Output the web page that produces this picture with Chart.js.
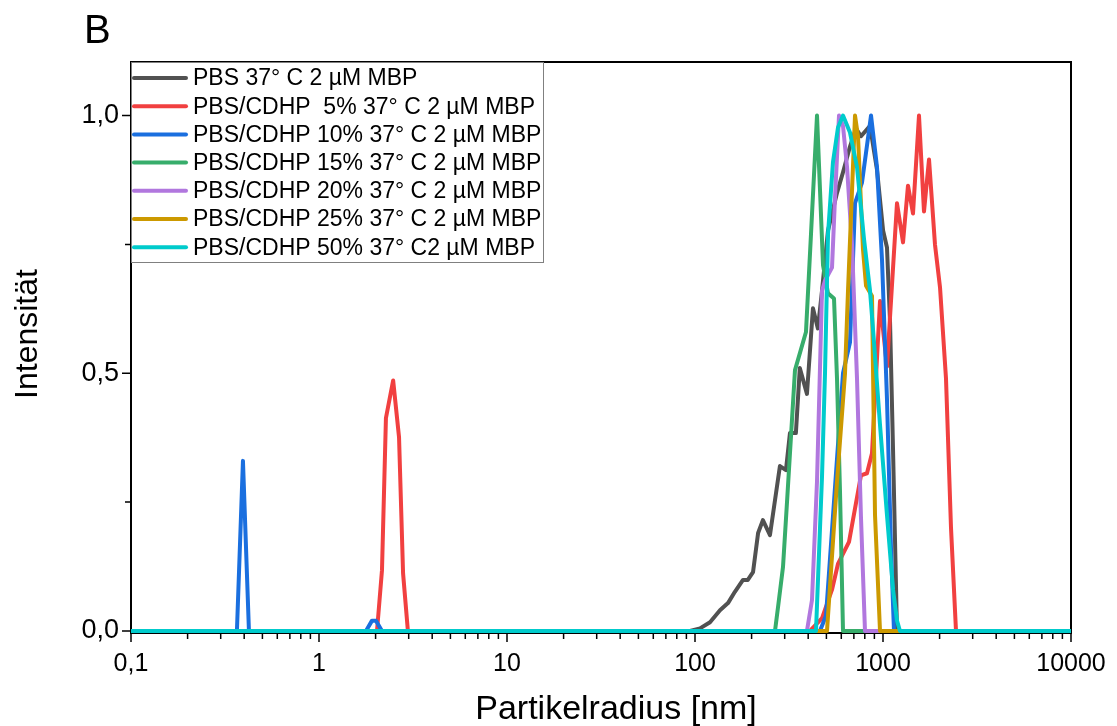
<!DOCTYPE html>
<html>
<head>
<meta charset="utf-8">
<title>DLS Partikelradius</title>
<script src="https://cdn.jsdelivr.net/npm/chart.js@4.4.1/dist/chart.umd.min.js"></script>
<style>
  html, body { margin: 0; padding: 0; background: #fff; }
  #wrap { width: 1117px; height: 726px; }
</style>
</head>
<body>
<div id="wrap"><canvas id="dls" width="1117" height="726"></canvas></div>
<script>
/* --- Data (radius in nm, normalised intensity) --- */
const radiusPBS = [0.1, 94.1, 106.3, 120.2, 135.8, 149.8, 163, 180, 191, 203.5, 216.6, 229.7, 250.5, 283, 304.6, 320, 344, 361, 394, 424, 450.5, 473.8, 509.9, 569.3, 612.7, 667.5, 718.6, 763.6, 853.1, 929, 1001, 1050, 1090, 1131, 1187, 10000];
const intPBS = [0, 0, 0.005, 0.017, 0.04, 0.054, 0.076, 0.099, 0.099, 0.114, 0.19, 0.215, 0.186, 0.32, 0.312, 0.384, 0.384, 0.51, 0.46, 0.626, 0.587, 0.66, 0.777, 0.85, 0.89, 0.94, 0.975, 0.96, 0.98, 0.895, 0.777, 0.744, 0.6, 0.35, 0, 0];

const radius5 = [0.1, 1.9, 2.035, 2.163, 2.27, 2.48, 2.665, 2.8, 2.97, 3.1, 380, 409, 474, 535.5, 576, 659.5, 763.6, 822, 874, 964, 1050, 1187, 1278, 1358, 1444, 1554, 1652, 1757, 1890, 2010, 2163, 2300, 2445, 10000];
const int5 = [0, 0, 0, 0.118, 0.413, 0.486, 0.376, 0.112, 0, 0, 0, 0, 0.025, 0.08, 0.13, 0.173, 0.302, 0.306, 0.345, 0.64, 0.513, 0.83, 0.754, 0.864, 0.81, 1.0, 0.814, 0.915, 0.75, 0.667, 0.49, 0.2, 0, 0];

const radius10 = [0.1, 0.35, 0.366, 0.394, 0.424, 0.44, 1.7, 1.778, 1.914, 2.01, 2.163, 2.3, 440, 462, 497.7, 612.7, 667.5, 709.8, 773.3, 863.5, 929.3, 987.9, 1050, 1103, 1144, 10000];
const int10 = [0, 0, 0, 0.33, 0, 0, 0, 0, 0.02, 0.02, 0, 0, 0, 0, 0.03, 0.5, 0.56, 0.83, 0.87, 1.0, 0.9, 0.72, 0.45, 0.16, 0, 0];

const radius15 = [0.1, 266.4, 276.4, 293.8, 308.6, 340.3, 389.3, 414, 445.6, 479.7, 509.9, 548.8, 569.3, 590.6, 612.7, 10000];
const int15 = [0, 0, 0.046, 0.124, 0.25, 0.506, 0.58, 0.77, 1.0, 0.71, 0.655, 0.645, 0.49, 0.27, 0, 0];

const radius20 = [0.1, 394.1, 419.1, 445.6, 473.8, 491.5, 535.5, 555.5, 583.4, 612.7, 643.6, 684.1, 727.3, 763.6, 802, 10000];
const int20 = [0, 0, 0.06, 0.29, 0.66, 0.68, 0.705, 0.84, 1.0, 0.98, 0.9, 0.75, 0.49, 0.22, 0, 0];

const radius25 = [0.1, 503.7, 569.3, 628, 651.4, 709.8, 736.2, 782.8, 812.1, 874, 906.8, 964, 10000];
const int25 = [0, 0, 0.29, 0.5, 0.66, 1.0, 0.96, 0.74, 0.67, 0.65, 0.225, 0, 0];

const radius50 = [0.1, 440.2, 473.8, 491.5, 509.9, 542, 576.2, 612.7, 667.5, 727.3, 792.6, 853.1, 895.8, 964, 1050, 1131, 1187, 1231, 10000];
const int50 = [0, 0, 0.3, 0.5, 0.77, 0.91, 0.977, 1.0, 0.967, 0.9, 0.76, 0.66, 0.56, 0.4, 0.225, 0.08, 0.02, 0, 0];

const seriesLabels = [
  'PBS 37° C 2 µM MBP',
  'PBS/CDHP  5% 37° C 2 µM MBP',
  'PBS/CDHP 10% 37° C 2 µM MBP',
  'PBS/CDHP 15% 37° C 2 µM MBP',
  'PBS/CDHP 20% 37° C 2 µM MBP',
  'PBS/CDHP 25% 37° C 2 µM MBP',
  'PBS/CDHP 50% 37° C2 µM MBP'
];
const seriesColors = ['#515151', '#F14040', '#1A6FDF', '#37AD6B', '#B177DE', '#CC9900', '#00CBCC'];

const xTicks = [0.1, 1, 10, 100, 1000, 10000];
const xTickLabels = ['0,1', '1', '10', '100', '1000', '10000'];
const yTicks = [0, 0.25, 0.5, 0.75, 1.0];
const yTickLabels = ['0,0', '', '0,5', '', '1,0'];

const FONT = "'Liberation Sans', Arial, sans-serif";

/* --- Frame, ticks, legend, titles --- */
const decorations = {
  id: 'decorations',
  beforeDatasetsDraw(chart) {
    const { ctx, chartArea: a, scales: { x, y } } = chart;
    ctx.save();
    ctx.strokeStyle = '#000';
    ctx.lineWidth = 2;
    ctx.strokeRect(a.left, a.top, a.right - a.left, a.bottom - a.top);

    // log ticks on the x axis (outward)
    ctx.lineWidth = 1.5;
    ctx.beginPath();
    for (let e = -1; e <= 4; e++) {
      for (let m = 1; m <= 9; m++) {
        const v = m * Math.pow(10, e);
        if (v > 10000 * 1.0001) break;
        const px = x.getPixelForValue(v);
        const len = m === 1 ? 9 : 6;
        ctx.moveTo(px, a.bottom);
        ctx.lineTo(px, a.bottom + len);
      }
    }
    // y ticks
    yTicks.forEach((v, i) => {
      const py = y.getPixelForValue(v);
      const len = yTickLabels[i] ? 9 : 6;
      ctx.moveTo(a.left - len, py);
      ctx.lineTo(a.left, py);
    });
    ctx.stroke();
    ctx.restore();
  },
  afterDraw(chart) {
    const { ctx, chartArea: a } = chart;
    ctx.save();

    // legend box
    const lw = 412, lh = 200;
    ctx.fillStyle = '#fff';
    ctx.fillRect(a.left + 1, a.top + 1, lw - 1, lh - 1);
    ctx.strokeStyle = '#808080';
    ctx.lineWidth = 1;
    ctx.strokeRect(a.left + 0.5, a.top + 0.5, lw, lh);
    ctx.font = '23px ' + FONT;
    ctx.textBaseline = 'middle';
    ctx.textAlign = 'left';
    chart.data.datasets.forEach((ds, i) => {
      const ry = a.top + 16 + i * 28.2;
      ctx.strokeStyle = ds.borderColor;
      ctx.lineWidth = 4;
      ctx.lineCap = 'round';
      ctx.beginPath();
      ctx.moveTo(a.left + 3, ry);
      ctx.lineTo(a.left + 55, ry);
      ctx.stroke();
      ctx.fillStyle = '#000';
      ctx.fillText(ds.label, a.left + 62, ry + 1);
    });

    // panel letter
    ctx.fillStyle = '#000';
    ctx.font = '40px ' + FONT;
    ctx.textBaseline = 'alphabetic';
    ctx.fillText('B', 84, 43);

    // axis titles
    ctx.font = '34px ' + FONT;
    ctx.textAlign = 'center';
    ctx.fillText('Partikelradius [nm]', 616, 719);
    ctx.font = '32px ' + FONT;
    ctx.translate(37, 334);
    ctx.rotate(-Math.PI / 2);
    ctx.fillText('Intensität', 0, 0);
    ctx.restore();
  }
};

const radii = [radiusPBS, radius5, radius10, radius15, radius20, radius25, radius50];
const ints = [intPBS, int5, int10, int15, int20, int25, int50];

new Chart(document.getElementById('dls').getContext('2d'), {
  type: 'line',
  data: {
    datasets: seriesLabels.map((label, i) => ({
      label,
      data: radii[i].map((r, k) => ({ x: r, y: ints[i][k] })),
      borderColor: seriesColors[i],
      backgroundColor: seriesColors[i],
      borderWidth: 4,
      pointRadius: 0,
      tension: 0,
      fill: false,
      borderJoinStyle: 'round',
      // later series are painted on top, as in the original plot
      order: seriesLabels.length - i
    }))
  },
  options: {
    responsive: false,
    animation: false,
    devicePixelRatio: 1,
    layout: { padding: { top: 62, right: 46, left: 0, bottom: 0 } },
    plugins: { legend: { display: false }, tooltip: { enabled: false } },
    scales: {
      x: {
        type: 'logarithmic',
        min: 0.1,
        max: 10000,
        grid: { display: false, drawTicks: false },
        border: { display: false },
        afterBuildTicks: s => { s.ticks = xTicks.map(v => ({ value: v })); },
        afterFit: s => { s.height = 93; s.paddingLeft = 0; s.paddingRight = 0; },
        ticks: {
          autoSkip: false,
          maxRotation: 0,
          padding: 16,
          color: '#000',
          font: { family: FONT, size: 25 },
          callback: (v, i) => xTickLabels[i]
        }
      },
      y: {
        min: -0.004,
        max: 1.104,
        grid: { display: false, drawTicks: false },
        border: { display: false },
        afterBuildTicks: s => { s.ticks = yTicks.map(v => ({ value: v })); },
        afterFit: s => { s.width = 131; s.paddingTop = 0; s.paddingBottom = 0; },
        ticks: {
          padding: 12,
          color: '#000',
          font: { family: FONT, size: 27 },
          callback: (v, i) => yTickLabels[i]
        }
      }
    }
  },
  plugins: [decorations]
});
</script>
</body>
</html>
